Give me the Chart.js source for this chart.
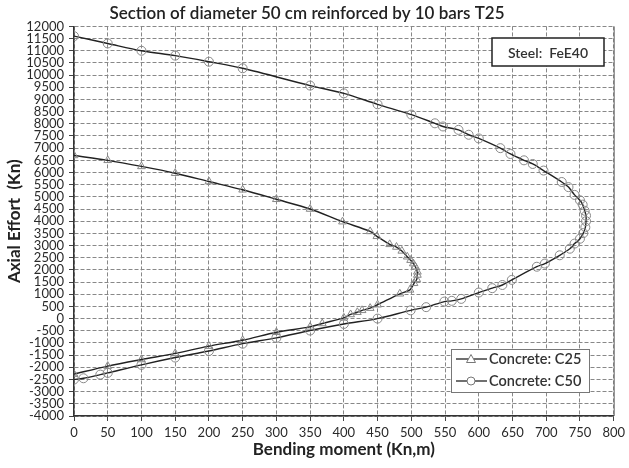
<!DOCTYPE html>
<html>
<head>
<meta charset="utf-8">
<script src="https://cdn.jsdelivr.net/npm/chart.js@4.4.1/dist/chart.umd.min.js"></script>
<style>
html,body{margin:0;padding:0;background:#fff;}
#wrap{width:629px;height:468px;position:relative;}
</style>
</head>
<body>
<div id="wrap"><canvas id="c" width="629" height="468"></canvas></div>
<script>
// Concrete C25 (moment kN.m, axial kN)
const c25Moment = [0,50,100,150,200,250,300,350,398,439,449,468,478,486,494,499,503,506,509,509,508,504,498,483,450,439,427,420,410,400,368,350,300,250,200,150,100,50,0];
const c25Axial  = [6700,6500,6250,5970,5630,5290,4900,4500,3980,3580,3380,3050,2940,2780,2540,2400,2260,2130,1920,1790,1610,1450,1180,1020,570,430,340,260,170,30,-200,-340,-560,-890,-1130,-1430,-1680,-1950,-2280];
// Concrete C50
const c50Moment = [0,50,100,150,200,250,350,400,450,500,535,547,570,585,600,632,647,667,680,696,723,733,742,750,754,757,759,759,758,755,750,742,735,720,698,686,649,635,620,600,574,560,549,522,499,450,400,350,300,250,200,150,100,50,39,14,0];
const c50Axial  = [11600,11300,11000,10800,10550,10280,9570,9250,8800,8380,8020,7890,7750,7550,7400,7000,6760,6500,6350,6080,5610,5400,5080,4860,4680,4430,4230,4000,3750,3510,3280,3080,2870,2600,2260,2130,1590,1380,1250,1070,810,730,700,470,340,0,-220,-490,-790,-1030,-1330,-1600,-1900,-2230,-2300,-2450,-2500];

const seriesNames = ['Concrete: C25','Concrete: C50'];
const xTickRange = [0, 800, 50];
const yTickRange = [-4000, 12000, 500];
const titleText = 'Section of diameter 50 cm reinforced by 10 bars T25';
const xTitle = 'Bending moment (Kn,m)';
const yTitle = 'Axial Effort  (Kn)';
const noteText = 'Steel:  FeE40';

const toPts = (xs, ys) => xs.map((x, i) => ({x: x, y: ys[i]}));
const FONT = 'Lato, "Open Sans", sans-serif';

const overlay = {
  id: 'overlay',
  afterDraw(chart) {
    const ctx = chart.ctx;
    const a = chart.chartArea;
    ctx.save();
    // right border
    ctx.strokeStyle = '#666';
    ctx.lineWidth = 1;
    ctx.beginPath();
    ctx.moveTo(a.right + 0.5, a.top);
    ctx.lineTo(a.right + 0.5, a.bottom);
    ctx.stroke();

    // Steel box
    ctx.fillStyle = '#fff';
    ctx.fillRect(492, 38, 112, 28);
    ctx.strokeStyle = '#222';
    ctx.lineWidth = 1.5;
    ctx.strokeRect(492, 38, 112, 28);
    ctx.fillStyle = '#333';
    ctx.font = '600 14px ' + FONT;
    ctx.textAlign = 'center';
    ctx.textBaseline = 'middle';
    ctx.fillText(noteText, 548, 53);

    // legend box
    ctx.fillStyle = '#fff';
    ctx.fillRect(451, 349, 138, 43);
    ctx.strokeStyle = '#777';
    ctx.lineWidth = 1;
    ctx.strokeRect(451.5, 349.5, 138, 43);
    const rows = [359, 381];
    chart.data.datasets.forEach((ds, i) => {
      const y = rows[i];
      ctx.strokeStyle = '#222';
      ctx.lineWidth = 1.3;
      ctx.beginPath();
      ctx.moveTo(456, y);
      ctx.lineTo(487, y);
      ctx.stroke();
      ctx.strokeStyle = '#777';
      ctx.fillStyle = '#fff';
      ctx.lineWidth = 1;
      ctx.beginPath();
      if (i === 0) {
        ctx.moveTo(471, y - 4.5);
        ctx.lineTo(475.5, y + 3.5);
        ctx.lineTo(466.5, y + 3.5);
        ctx.closePath();
      } else {
        ctx.arc(471, y, 4, 0, Math.PI * 2);
      }
      ctx.fill();
      ctx.stroke();
      ctx.fillStyle = '#333';
      ctx.font = '600 14.5px ' + FONT;
      ctx.textAlign = 'left';
      ctx.textBaseline = 'middle';
      ctx.fillText(ds.label, 489, y);
    });
    ctx.restore();
  }
};

new Chart(document.getElementById('c'), {
  type: 'scatter',
  data: {
    datasets: [
      {
        label: seriesNames[0],
        data: toPts(c25Moment, c25Axial),
        showLine: true,
        borderColor: '#222',
        borderWidth: 1.4,
        tension: 0.3,
        pointStyle: 'triangle',
        pointRadius: 4.5,
        pointBorderColor: '#888',
        pointBackgroundColor: 'rgba(0,0,0,0)',
        pointBorderWidth: 1
      },
      {
        label: seriesNames[1],
        data: toPts(c50Moment, c50Axial),
        showLine: true,
        borderColor: '#222',
        borderWidth: 1.4,
        tension: 0.3,
        pointStyle: 'circle',
        pointRadius: 4.5,
        pointBorderColor: '#888',
        pointBackgroundColor: 'rgba(0,0,0,0)',
        pointBorderWidth: 1
      }
    ]
  },
  options: {
    responsive: false,
    animation: false,
    layout: {padding: {left: 0, right: 15, top: 0, bottom: 0}},
    plugins: {
      legend: {display: false},
      tooltip: {enabled: false},
      title: {
        display: true,
        text: titleText,
        color: '#222',
        font: {family: FONT, size: 17, weight: '600'},
        padding: {top: 3, bottom: 3}
      }
    },
    scales: {
      x: {
        type: 'linear',
        min: xTickRange[0], max: xTickRange[1],
        afterFit(s) { s.height = 52; },
        ticks: {stepSize: xTickRange[2], autoSkip: false, color: '#2a2a2a', font: {family: FONT, size: 13}, padding: 4, maxRotation: 0, callback: v => String(v)},
        grid: {color: '#888', lineWidth: 1, tickLength: 5, tickColor: '#444', tickBorderDash: []},
        border: {display: true, color: '#333', width: 1.5, dash: [4, 2]},
        title: {display: true, text: xTitle, color: '#222', font: {family: FONT, size: 17, weight: 'bold'}, padding: {top: 0, bottom: 8}}
      },
      y: {
        type: 'linear',
        min: yTickRange[0], max: yTickRange[1],
        afterFit(s) { s.width = 74; },
        ticks: {stepSize: yTickRange[2], autoSkip: false, color: '#2a2a2a', font: {family: FONT, size: 13}, padding: 5, callback: v => String(v)},
        grid: {color: '#888', lineWidth: 1, tickLength: 5, tickColor: '#444', tickBorderDash: []},
        border: {display: true, color: '#333', width: 1.5, dash: [4, 2]},
        title: {display: true, text: yTitle, color: '#222', font: {family: FONT, size: 17, weight: 'bold'}, padding: {top: 4, bottom: 0}}
      }
    }
  },
  plugins: [overlay]
});
</script>
</body>
</html>
